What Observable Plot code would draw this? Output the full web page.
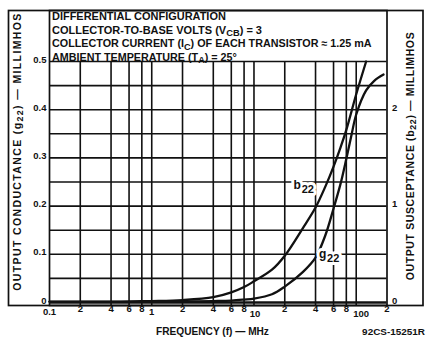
<!DOCTYPE html>
<html><head><meta charset="utf-8">
<script src="https://cdn.jsdelivr.net/npm/d3@7"></script>
<script src="https://cdn.jsdelivr.net/npm/@observablehq/plot@0.6"></script>
<style>
body{margin:0;background:#fff;}
</style></head><body><div id="chart"></div>
<script>
// b22 (output susceptance, millimhos, right axis)
const freqB = [0.1, 0.5, 1, 2, 4, 6, 8, 10, 15, 20, 30, 40, 50, 60, 70, 80, 100, 125];
const b22   = [0.01, 0.01, 0.015, 0.025, 0.055, 0.105, 0.16, 0.22, 0.34, 0.485, 0.77, 0.985, 1.205, 1.41, 1.605, 1.79, 2.16, 2.5];
// g22 (output conductance, millimhos, left axis)
const freqG = [0.1, 1, 2, 4, 6, 8, 10, 15, 20, 30, 40, 50, 60, 70, 80, 90, 100, 125, 150, 185];
const g22   = [0.0015, 0.0015, 0.002, 0.003, 0.004, 0.006, 0.008, 0.017, 0.033, 0.063, 0.093, 0.14, 0.195, 0.245, 0.298, 0.348, 0.39, 0.44, 0.46, 0.473];

const gridX = [0.2, 0.4, 0.6, 0.8, 1, 2, 4, 6, 8, 10, 20, 40, 60, 80, 100];
const gridY = [0.05, 0.1, 0.15, 0.2, 0.25, 0.3, 0.35, 0.4, 0.45, 0.5];
const xTicks = [0.1, 0.2, 0.4, 0.6, 0.8, 1, 2, 4, 6, 8, 10, 20, 40, 60, 80, 100, 200];
const xTickLabels = ["0.1", "2", "4", "6", "8", "1", "2", "4", "6", "8", "10", "2", "4", "6", "8", "100", "2"];
const yTicks = [0, 0.1, 0.2, 0.3, 0.4, 0.5];
const yTickLabels = ["0", "0.1", "0.2", "0.3", "0.4", "0.5"];
const bTicks = [0, 1, 2];
const bTickLabels = ["0", "1", "2"];
const bPerG = 5; // right axis: 1 millimho of b22 = 0.2 of g22 scale

const header = [
  "DIFFERENTIAL CONFIGURATION",
  "COLLECTOR-TO-BASE VOLTS (V_{CB}) = 3",
  "COLLECTOR CURRENT (I_{C}) OF EACH TRANSISTOR \u2248 1.25 mA",
  "AMBIENT TEMPERATURE (T_{A}) = 25\u00b0"
];
const leftTitle = "OUTPUT CONDUCTANCE (g_{22}) \u2014 MILLIMHOS";
const rightTitle = "OUTPUT SUSCEPTANCE (b_{22}) \u2014 MILLIMHOS";
const xTitle = "FREQUENCY (f) \u2014 MHz";
const figNo = "92CS-15251R";

// curve labels: main letter, subscript, anchor frequency and g-scale level
const curveLabels = [
  {main: "b", sub: "22", f: 26.5, v: 0.243},
  {main: "g", sub: "22", f: 47, v: 0.1}
];

const bData = freqB.map((f, i) => ({f, v: b22[i] / bPerG}));
const gData = freqG.map((f, i) => ({f, v: g22[i]}));

const FONT = "'Liberation Sans', Arial, sans-serif";
const black = "#111";

const xLabelDy = xTickLabels.map(t => (t === "10" || t === "100") ? 14 : (t === "0.1" || t === "1") ? 12 : 9);
const xLabelDx = xTickLabels.map(t => t === "100" ? 5 : t === "10" ? 1 : 0);

const labelMarks = (halo) => [
  Plot.text(curveLabels, {x: "f", y: "v", text: "main", fontSize: 12, fill: halo ? "white" : black, stroke: halo ? "white" : "none", strokeWidth: 6}),
  Plot.text(curveLabels, {x: "f", y: "v", text: "sub", dx: 10.5, dy: 4, fontSize: 11, fill: halo ? "white" : black, stroke: halo ? "white" : "none", strokeWidth: 6})
];

const plot = Plot.plot({
  width: 427,
  height: 342,
  marginLeft: 49,
  marginRight: 40.5,
  marginTop: 61,
  marginBottom: 40,
  style: {fontFamily: FONT, fontWeight: "bold", fontSize: "9px", background: "#fff", color: black},
  x: {type: "log", domain: [0.1, 200], axis: null},
  y: {domain: [0, 0.5], axis: null},
  marks: [
    Plot.ruleY(gridY, {stroke: black, strokeWidth: 1.6}),
    Plot.ruleX(gridX, {stroke: black, strokeWidth: 1.6, insetBottom: -3}),
    Plot.ruleY([0], {stroke: black, strokeWidth: 2.5}),
    Plot.frame({stroke: black, strokeWidth: 1.7, insetTop: -51, insetBottom: -3}),
    Plot.frame({stroke: black, strokeWidth: 1.7, insetTop: -51, insetBottom: -3, insetLeft: -41, insetRight: -36}),
    Plot.line(bData, {x: "f", y: "v", curve: "catmull-rom", stroke: black, strokeWidth: 2.3}),
    Plot.line(gData, {x: "f", y: "v", curve: "catmull-rom", stroke: black, strokeWidth: 2.3}),
    ...labelMarks(true),
    ...labelMarks(false),
    // left tick labels
    Plot.text(yTicks, {y: d => d, text: (d, i) => yTickLabels[i], frameAnchor: "left", dx: -3, dy: 1, textAnchor: "end", lineAnchor: "bottom", fontSize: 9.5, fill: black}),
    // right tick labels
    Plot.text(bTicks, {y: d => d / bPerG, text: (d, i) => bTickLabels[i], frameAnchor: "right", dx: 5, dy: -2, textAnchor: "start", fontSize: 9.5, fill: black}),
    // x tick labels
    ...xTicks.map((t, i) => Plot.text([t], {x: d => d, text: () => xTickLabels[i], frameAnchor: "bottom", dy: xLabelDy[i], dx: xLabelDx[i], fontSize: 9.5, fill: black}))
  ]
});

document.getElementById("chart").appendChild(plot);

// rich text (subscripts) added to the same SVG
const svg = d3.select(plot);
function rich(sel, str, shift) {
  const parts = str.split(/(_\{[^}]*\})/);
  let down = false;
  for (const p of parts) {
    if (!p) continue;
    const m = p.match(/^_\{(.*)\}$/);
    if (m) { sel.append("tspan").attr("dy", shift).attr("font-size", "0.85em").text(m[1]); down = true; }
    else { const t = sel.append("tspan").text(p); if (down) { t.attr("dy", -shift); down = false; } }
  }
  return sel;
}
function fit(sel, target, lo, hi) {
  const w = sel.node().getComputedTextLength();
  const fs = +sel.attr("font-size");
  if (w > 0) {
    let nf = fs * target / w;
    const clamped = Math.max(lo, Math.min(hi, nf));
    sel.attr("font-size", clamped);
    const w2 = sel.node().getComputedTextLength();
    if (w2 > 0 && Math.abs(w2 - target) > 1) sel.attr("letter-spacing", (target - w2) / Math.max(1, sel.text().length - 1));
  }
  return sel;
}
const g = svg.append("g").attr("font-family", FONT).attr("font-weight", "bold").attr("fill", black).attr("text-anchor", "start");
const headerWidths = [174, 211, 320, 185];
header.forEach((line, i) => {
  const t = rich(g.append("text").attr("x", 52).attr("y", 20 + i * 13.5).attr("font-size", 10).attr("text-anchor", "start"), line, 2.5);
  fit(t, headerWidths[i], 9, 11);
});
fit(rich(g.append("text").attr("transform", "translate(20.5,151.5) rotate(-90)").attr("text-anchor", "middle")
  .attr("font-size", 9.5), leftTitle, 2.5), 277, 9, 10.5);
fit(rich(g.append("text").attr("transform", "translate(413.5,156) rotate(-90)").attr("text-anchor", "middle")
  .attr("font-size", 9.5), rightTitle, 2.5), 248, 9, 10.5);
fit(g.append("text").attr("x", 212.5).attr("y", 335).attr("text-anchor", "middle").attr("font-size", 9.5).text(xTitle), 113, 8.5, 10.5);
fit(g.append("text").attr("x", 425).attr("y", 335).attr("text-anchor", "end").attr("font-size", 9).text(figNo), 63, 8, 10);
</script>
</body></html>
